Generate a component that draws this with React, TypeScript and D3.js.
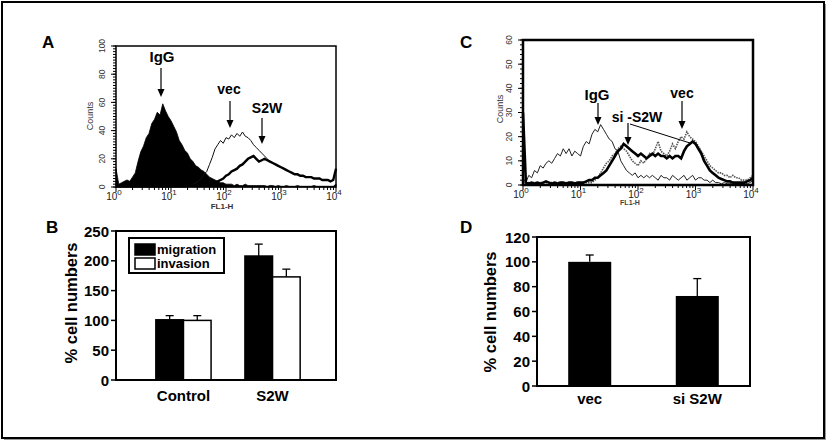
import React from "react";
import * as d3 from "d3";

// ---------- DATA ----------
// Flow histograms: counts per log bin (bins every 0.05 decade from 10^0 to 10^4)
const binStepA = 0.05;
const histA_IgG = [13,2,3,4,5,4,7,10,18,25,29,35,38,45,48,53,51,59,54,50,47,43,39,33,30,26,24,20,18,15,14,12,11,9,7,6,5,4,3,3,2,2,2,1,2,1,1,2,1,1,1,1,1,1,1,0.5,1,1,0.5,1,0.5,0.5,1,0.5,0.5,0.5,1,0.5,0.5,0.5,0.5,0.5,1,0.5,0.5,0.5,0.5,0.5,0.5,0.5,2];
const histA_vec = [0.5,0.5,0.5,0.5,0.5,0.5,0.5,0.5,0.5,0.5,0.5,0.5,0.5,0.5,0.5,0.5,0.5,0.5,0.5,0.5,0.5,0.5,0.5,0.5,0.5,0.5,1,1,2,3,4,6,9,11,16,21,27,30,33,31,35,34,37,35,38,36,39,36,35,33,30,28,26,24,22,20,18,17,16,15,14,13,12,11,10,9,9,8,8,7,7,7,6,6,6,5,5,5,4,5,13];
const histA_S2W = [0.5,0.5,0.5,0.5,0.5,0.5,0.5,0.5,0.5,0.5,0.5,0.5,0.5,0.5,0.5,0.5,0.5,0.5,0.5,0.5,0.5,0.5,0.5,0.5,0.5,0.5,1,1,1,1,1,1,1.5,2,2,3,3,4,5,6,8,9,11,12,13,15,16,18,20,21,22,20,18,19,20,19,18,17,16,15,14,13,12,11,10,9,9,8,8,7,7,7,6,6,6,5,5,5,4,5,13];

const histC_IgG = [3,1,4,3,6,5,8,7,9,10,9,11,13,12,15,13,15,12,14,13,12,16,18,17,21,23,22,25,23,21,19,18,15,14,10,8,6,5,4,5,3,4,3,4,3,4,3,2,4,3,3,2,4,3,2,3,4,2,3,4,2,3,3,2,2,1,2,1,1,0.5,1,0.5,0.5,1,0.5,0.5,0.5,1,0.5,1,2];
const histC_siS2W = [30,1,0.5,1,0.5,1,0.5,1,1.5,1,0.5,1,0.5,1,1,0.5,1,1,0.5,1,1,1,1.5,2,2,3,3,4,5,6,8,10,12,14,15,17,16,15,14,13,12,13,12,11,12,13,12,13,12,12,11,12,11,12,12,11,14,16,17,18,17,15,13,10,8,6,5,4,3,2.5,2,1.5,1.5,1,1,1,1,1,1.5,2,3];
const histC_vec = [1,1,1,1,1,1,1,1,1,1,1,1,1,1,1,1,1,1,1,1,1,1,1,1,1,2,3,5,7,9,10,12,13,15,16,15,14,12,10,9,8,10,9,11,13,12,15,18,14,13,12,14,17,15,18,20,19,22,20,19,18,16,14,12,10,8,7,6,5,5,4,4,3,4,3,3,2,2,2,3,4];

// Panel B
const catsB = ["Control", "S2W"];
const seriesB = ["migration", "invasion"];
const migration = [101, 208];
const migrationErr = [7, 20];
const invasion = [100, 173];
const invasionErr = [8, 13];
const ticksB = [0, 50, 100, 150, 200, 250];

// Panel D
const catsD = ["vec", "si S2W"];
const valuesD = [100, 72.5];
const errD = [5.5, 14];
const ticksD = [0, 20, 40, 60, 80, 100, 120];

const ticksA_y = [0, 20, 40, 60, 80, 100];
const ticksC_y = [0, 10, 20, 30, 40, 50, 60];
const decades = [0, 1, 2, 3, 4];

const FONT = "'Liberation Sans', Arial, Helvetica, sans-serif";

function Histo({ x0, x1, y0, y1, yMax, yTicks, minorStep, frameW, children }: any) {
  const x = d3.scaleLinear().domain([0, 4]).range([x0, x1]);
  const y = d3.scaleLinear().domain([0, yMax]).range([y1, y0]);
  const minorY = d3.range(0, yMax + 0.001, minorStep);
  const minorX: number[] = [];
  for (let dcd = 0; dcd < 4; dcd++) for (let k = 2; k <= 9; k++) minorX.push(dcd + Math.log10(k));
  return (
    <g>
      {children(x, y)}
      <rect x={x0} y={y0} width={x1 - x0} height={y1 - y0} fill="none" stroke="#000" strokeWidth={frameW} />
      {minorY.map((v) => (
        <line key={"my" + v} x1={x0 - 3} x2={x0} y1={y(v)} y2={y(v)} stroke="#000" strokeWidth={1} />
      ))}
      {yTicks.map((v: number) => (
        <g key={"yt" + v}>
          <line x1={x0 - 5} x2={x0} y1={y(v)} y2={y(v)} stroke="#000" strokeWidth={1} />
          <text transform={`translate(${x0 - 11},${y(v)}) rotate(-90)`} textAnchor="middle" fontSize={8.5} fontFamily={FONT} fill="#333">{v}</text>
        </g>
      ))}
      {minorX.map((v, i) => (
        <line key={"mx" + i} x1={x(v)} x2={x(v)} y1={y1} y2={y1 + 3} stroke="#000" strokeWidth={1} />
      ))}
      {decades.map((dd) => (
        <g key={"xt" + dd}>
          <line x1={x(dd)} x2={x(dd)} y1={y1} y2={y1 + 5} stroke="#000" strokeWidth={1} />
          <text x={x(dd) - 2} y={y1 + 13} textAnchor="middle" fontSize={10} fontFamily={FONT} fill="#222">
            10<tspan fontSize={8} dy={-5}>{dd}</tspan>
          </text>
        </g>
      ))}
    </g>
  );
}

function Arrow({ x, ya, yb }: any) {
  return (
    <g>
      <line x1={x} x2={x} y1={ya} y2={yb - 5} stroke="#000" strokeWidth={1.2} />
      <path d={`M${x - 3.5},${yb - 8} L${x + 3.5},${yb - 8} L${x},${yb} Z`} fill="#000" />
    </g>
  );
}

export default function App() {
  const bins = d3.range(histA_IgG.length).map((i) => i * binStepA);
  const line = (x: any, y: any) =>
    d3.line<number>().x((_, i) => x(bins[i])).y((v) => y(v)).curve(d3.curveLinear);
  const area = (x: any, y: any) =>
    d3.area<number>().x((_, i) => x(bins[i])).y0(y(0)).y1((v) => y(v)).curve(d3.curveLinear);

  // Panel B scales
  const yB = d3.scaleLinear().domain([0, 250]).range([380, 231]);
  const xB = d3.scaleBand().domain(catsB).range([122, 334]).paddingInner(0.38).paddingOuter(0.38);
  const xB2 = d3.scaleBand().domain(seriesB).range([0, xB.bandwidth()]);
  const valsB: any = { migration, invasion };
  const errsB: any = { migration: migrationErr, invasion: invasionErr };

  // Panel D scales
  const yD = d3.scaleLinear().domain([0, 120]).range([386, 237]);
  const xD = d3.scaleBand().domain(catsD).range([537, 750]).paddingInner(0.6).paddingOuter(0.29);

  return (
    <svg width={827} height={441} style={{ position: "absolute", left: 0, top: 0, background: "#fff" }} fontFamily={FONT}>
      <rect x={0} y={0} width={827} height={441} fill="#fff" />
      <rect x={2} y={2} width={822} height={436} fill="none" stroke="#000" strokeWidth={2} />
      <line x1={4} x2={825} y1={439.5} y2={439.5} stroke="#999" strokeWidth={1} />
      <line x1={825.5} x2={825.5} y1={4} y2={440} stroke="#999" strokeWidth={1} />

      {/* Panel A */}
      <text x={42} y={48} fontSize={17} fontWeight="bold">A</text>
      <Histo x0={116} x1={336} y0={46} y1={187} yMax={100} yTicks={ticksA_y} minorStep={2} frameW={1.5}>
        {(x: any, y: any) => (
          <g>
            <path d={area(x, y)(histA_IgG) || ""} fill="#000" stroke="#000" strokeWidth={0.8} />
            <path d={line(x, y)(histA_vec) || ""} fill="none" stroke="#111" strokeWidth={1} />
            <path d={line(x, y)(histA_S2W) || ""} fill="none" stroke="#000" strokeWidth={2.4} />
          </g>
        )}
      </Histo>
      <text transform="translate(93,116) rotate(-90)" textAnchor="middle" fontSize={9} fill="#333">Counts</text>
      <text x={222} y={209} textAnchor="middle" fontSize={8} fontWeight="bold" fill="#333">FL1-H</text>
      <text x={162} y={62} textAnchor="middle" fontSize={15} fontWeight="bold">IgG</text>
      <Arrow x={161} ya={68} yb={97} />
      <text x={229} y={94} textAnchor="middle" fontSize={14} fontWeight="bold">vec</text>
      <Arrow x={230} ya={101} yb={128} />
      <text x={267} y={113} textAnchor="middle" fontSize={14} fontWeight="bold">S2W</text>
      <Arrow x={262} ya={118} yb={144} />

      {/* Panel C */}
      <text x={460} y={48} fontSize={17} fontWeight="bold">C</text>
      <Histo x0={523} x1={753} y0={40} y1={185} yMax={60} yTicks={ticksC_y} minorStep={2} frameW={2.5}>
        {(x: any, y: any) => (
          <g>
            <path d={line(x, y)(histC_IgG) || ""} fill="none" stroke="#222" strokeWidth={1} />
            <path d={line(x, y)(histC_vec) || ""} fill="none" stroke="#555" strokeWidth={1.6} strokeDasharray="1.5,1" />
            <path d={line(x, y)(histC_siS2W) || ""} fill="none" stroke="#000" strokeWidth={2.6} />
          </g>
        )}
      </Histo>
      <text transform="translate(503,109) rotate(-90)" textAnchor="middle" fontSize={9} fill="#333">Counts</text>
      <text x={630} y={205} textAnchor="middle" fontSize={7} fontWeight="bold" fill="#444">FL1-H</text>
      <text x={597} y={100} textAnchor="middle" fontSize={15} fontWeight="bold">IgG</text>
      <Arrow x={598} ya={103} yb={125} />
      <text x={682} y={98} textAnchor="middle" fontSize={14} fontWeight="bold">vec</text>
      <Arrow x={682} ya={101} yb={129} />
      <text x={637} y={122} textAnchor="middle" fontSize={14} fontWeight="bold">si -S2W</text>
      <Arrow x={628} ya={123} yb={145} />
      <line x1={630} y1={124} x2={690} y2={143} stroke="#000" strokeWidth={1} />

      {/* Panel B */}
      <text x={46} y={233} fontSize={17} fontWeight="bold">B</text>
      {catsB.map((c, ci) =>
        seriesB.map((s) => {
          const bx = (xB(c) as number) + (xB2(s) as number);
          const bw = xB2.bandwidth();
          const v = valsB[s][ci];
          const e = errsB[s][ci];
          const cx = bx + bw / 2;
          return (
            <g key={c + s}>
              <line x1={cx} x2={cx} y1={yB(v)} y2={yB(v + e)} stroke="#000" strokeWidth={1.3} />
              <line x1={cx - 4} x2={cx + 4} y1={yB(v + e)} y2={yB(v + e)} stroke="#000" strokeWidth={1.3} />
              <rect x={bx} y={yB(v)} width={bw} height={yB(0) - yB(v)} fill={s === "migration" ? "#000" : "#fff"} stroke="#000" strokeWidth={1.5} />
            </g>
          );
        })
      )}
      <rect x={116} y={231} width={220} height={149} fill="none" stroke="#000" strokeWidth={2} />
      {ticksB.map((t) => (
        <g key={"tb" + t}>
          <line x1={111} x2={116} y1={yB(t)} y2={yB(t)} stroke="#000" strokeWidth={1.5} />
          <text x={109} y={yB(t) + 5.5} textAnchor="end" fontSize={15} fontWeight="bold">{t}</text>
        </g>
      ))}
      {catsB.map((c) => (
        <text key={"lb" + c} x={(xB(c) as number) + xB.bandwidth() / 2} y={401} textAnchor="middle" fontSize={15} fontWeight="bold">{c}</text>
      ))}
      <text transform="translate(77,303) rotate(-90)" textAnchor="middle" fontSize={16.5} fontWeight="bold">% cell numbers</text>
      <rect x={129} y={238} width={95} height={35} fill="#fff" stroke="#000" strokeWidth={2} />
      {seriesB.map((s, i) => (
        <g key={"lg" + s}>
          <rect x={135} y={244 + i * 14} width={20} height={11} fill={s === "migration" ? "#000" : "#fff"} stroke="#000" strokeWidth={1.5} />
          <text x={157} y={254 + i * 14} fontSize={13} fontWeight="bold">{s}</text>
        </g>
      ))}

      {/* Panel D */}
      <text x={460} y={233} fontSize={17} fontWeight="bold">D</text>
      {catsD.map((c, i) => {
        const bx = xD(c) as number;
        const bw = xD.bandwidth();
        const cx = bx + bw / 2;
        const v = valuesD[i];
        const e = errD[i];
        return (
          <g key={"d" + c}>
            <line x1={cx} x2={cx} y1={yD(v)} y2={yD(v + e)} stroke="#000" strokeWidth={1.3} />
            <line x1={cx - 4} x2={cx + 4} y1={yD(v + e)} y2={yD(v + e)} stroke="#000" strokeWidth={1.3} />
            <rect x={bx} y={yD(v)} width={bw} height={yD(0) - yD(v)} fill="#000" />
            <text x={cx} y={404} textAnchor="middle" fontSize={15} fontWeight="bold">{c}</text>
          </g>
        );
      })}
      <rect x={537} y={237} width={213} height={149} fill="none" stroke="#000" strokeWidth={2} />
      {ticksD.map((t) => (
        <g key={"td" + t}>
          <line x1={532} x2={537} y1={yD(t)} y2={yD(t)} stroke="#000" strokeWidth={1.5} />
          <text x={530} y={yD(t) + 5.5} textAnchor="end" fontSize={15} fontWeight="bold">{t}</text>
        </g>
      ))}
      <text transform="translate(496,312) rotate(-90)" textAnchor="middle" fontSize={16.5} fontWeight="bold">% cell numbers</text>
    </svg>
  );
}
